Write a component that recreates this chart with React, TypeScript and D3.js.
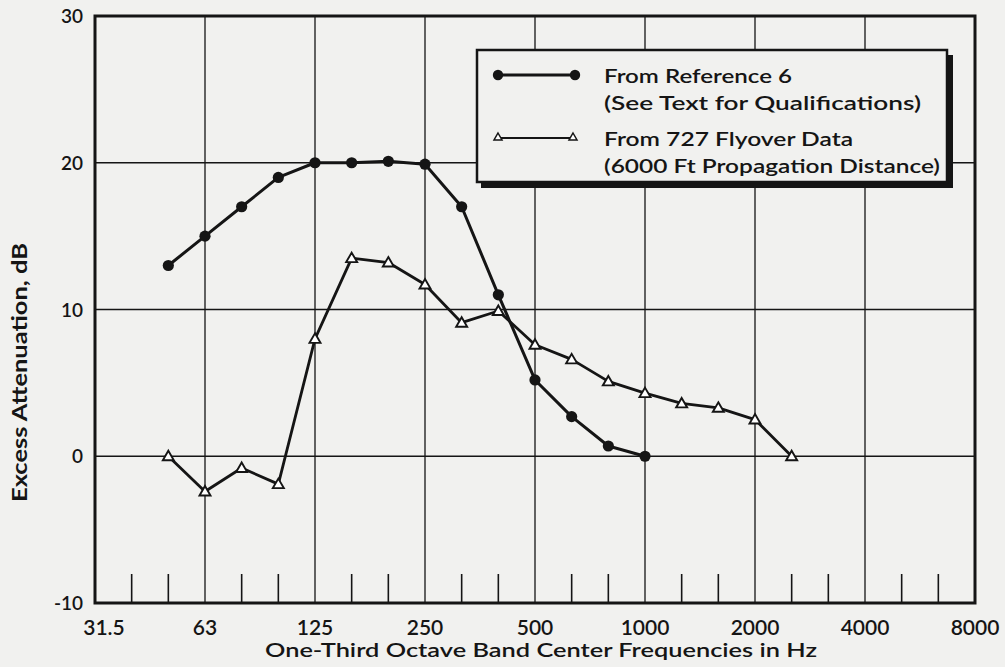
import React from 'react'
import * as d3 from 'd3'

// one-third octave band centers, 31.5 Hz .. 8000 Hz
const bandLabels = ['31.5', '40', '50', '63', '80', '100', '125', '160', '200', '250', '315', '400', '500', '630', '800', '1000', '1250', '1600', '2000', '2500', '3150', '4000', '5000', '6300', '8000']
const octaveLabels = ['31.5', '63', '125', '250', '500', '1000', '2000', '4000', '8000']
const yTicks = [-10, 0, 10, 20, 30]

// From Reference 6
const ref6Bands = ['50', '63', '80', '100', '125', '160', '200', '250', '315', '400', '500', '630', '800', '1000']
const ref6Values = [13, 15, 17, 19, 20, 20, 20.1, 19.9, 17, 11, 5.2, 2.7, 0.7, 0]

// From 727 Flyover Data
const flyBands = ['50', '63', '80', '100', '125', '160', '200', '250', '315', '400', '500', '630', '800', '1000', '1250', '1600', '2000', '2500']
const flyValues = [0, -2.4, -0.8, -1.9, 8, 13.5, 13.2, 11.7, 9.1, 9.9, 7.6, 6.6, 5.1, 4.3, 3.6, 3.3, 2.5, 0]

const W = 1005
const H = 667
const plot = { left: 95, right: 975, top: 16, bottom: 603 }
const ink = '#151515'
const paper = '#f1f1ef'
const font = 'Lato, "Open Sans", sans-serif'

const tri = 'M0,-5.5L5.5,4L-5.5,4Z'

export default function App() {
    const x = d3.scalePoint<string>().domain(bandLabels).range([plot.left, plot.right])
    const y = d3.scaleLinear().domain([-10, 30]).range([plot.bottom, plot.top])

    const line = d3.line<[string, number]>()
        .x(d => x(d[0]) as number)
        .y(d => y(d[1]))

    const ref6 = ref6Bands.map((b, i) => [b, ref6Values[i]] as [string, number])
    const fly = flyBands.map((b, i) => [b, flyValues[i]] as [string, number])

    // short ticks at bands that have no grid line
    const minorBands = bandLabels.filter(b => !octaveLabels.includes(b))

    return (
        <div style={{ position: 'absolute', left: 0, top: 0 }}>
            <svg width={W} height={H} style={{ display: 'block', background: paper }} fontFamily={font} fontWeight={600}>
                {/* grid */}
                {octaveLabels.slice(1, -1).map(b => (
                    <line key={'gx' + b} x1={x(b)} x2={x(b)} y1={plot.top} y2={plot.bottom} stroke={ink} strokeWidth={1.3} />
                ))}
                {yTicks.slice(1, -1).map(v => (
                    <line key={'gy' + v} x1={plot.left} x2={plot.right} y1={y(v)} y2={y(v)} stroke={ink} strokeWidth={1.3} />
                ))}
                {minorBands.map(b => (
                    <line key={'mt' + b} x1={x(b)} x2={x(b)} y1={plot.bottom - 29} y2={plot.bottom} stroke={ink} strokeWidth={1.6} />
                ))}

                {/* frame */}
                <rect x={plot.left} y={plot.top} width={plot.right - plot.left} height={plot.bottom - plot.top}
                    fill="none" stroke={ink} strokeWidth={3} />

                {/* y tick labels */}
                {yTicks.map(v => (
                    <text key={'yl' + v} x={plot.left - 12} y={y(v) + 7} textAnchor="end" fontSize={19} fill={ink}>{v}</text>
                ))}
                {/* x tick labels */}
                {octaveLabels.map(b => (
                    <text key={'xl' + b} x={(x(b) as number) + (b === '31.5' ? 9 : 0)} y={635} textAnchor="middle" fontSize={21} fill={ink}>{b}</text>
                ))}

                {/* axis titles */}
                <text x={265} y={657} fontSize={20} fill={ink} textLength={552} lengthAdjust="spacingAndGlyphs">
                    One-Third Octave Band Center Frequencies in Hz
                </text>
                <text transform="translate(27,502) rotate(-90)" fontSize={20} fill={ink} fontWeight={700} textLength={259} lengthAdjust="spacingAndGlyphs">
                    Excess Attenuation, dB
                </text>

                {/* series */}
                <path d={line(fly) ?? ''} fill="none" stroke={ink} strokeWidth={2.8} strokeLinejoin="round" />
                <path d={line(ref6) ?? ''} fill="none" stroke={ink} strokeWidth={3} strokeLinejoin="round" />
                {ref6.map(d => (
                    <circle key={'c' + d[0]} cx={x(d[0])} cy={y(d[1])} r={5.6} fill={ink} />
                ))}
                {fly.map(d => (
                    <path key={'t' + d[0]} d={tri} transform={`translate(${x(d[0])},${y(d[1])})`} fill="#fff" stroke={ink} strokeWidth={1.9} />
                ))}

                {/* legend */}
                <g>
                    <rect x={481} y={55} width={472} height={133} fill={ink} />
                    <rect x={477} y={50} width={470} height={132} fill={paper} stroke={ink} strokeWidth={2.5} />
                    <line x1={498} x2={575} y1={75} y2={75} stroke={ink} strokeWidth={3} />
                    <circle cx={498} cy={75} r={5.2} fill={ink} />
                    <circle cx={575} cy={75} r={5.2} fill={ink} />
                    <line x1={498} x2={573} y1={138} y2={138} stroke={ink} strokeWidth={2} />
                    <path d="M0,-4L4,3L-4,3Z" transform="translate(498,137)" fill="#fff" stroke={ink} strokeWidth={1.5} />
                    <path d="M0,-4L4,3L-4,3Z" transform="translate(573,137)" fill="#fff" stroke={ink} strokeWidth={1.5} />
                    <text x={604} y={83} fontSize={20} fill={ink} textLength={188} lengthAdjust="spacingAndGlyphs">From Reference 6</text>
                    <text x={604} y={110} fontSize={20} fill={ink} textLength={317} lengthAdjust="spacingAndGlyphs">(See Text for Qualifications)</text>
                    <text x={604} y={146} fontSize={20} fill={ink} textLength={249} lengthAdjust="spacingAndGlyphs">From 727 Flyover Data</text>
                    <text x={604} y={173} fontSize={20} fill={ink} textLength={336} lengthAdjust="spacingAndGlyphs">(6000 Ft Propagation Distance)</text>
                </g>
            </svg>
        </div>
    )
}
